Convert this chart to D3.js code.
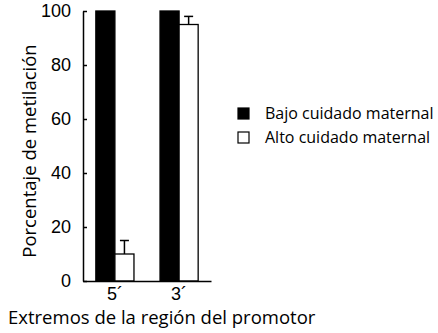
<!DOCTYPE html>
<html>
<head>
<meta charset="utf-8">
<script src="https://cdn.jsdelivr.net/npm/d3@7"></script>
<style>
  html, body { margin: 0; padding: 0; background: #fff; }
  svg { display: block; }
</style>
</head>
<body>
<svg id="chart" width="438" height="333"></svg>
<script>
// Methylation percentage at the two ends of the promoter region
const regions = ["5´", "3´"];
const groups = ["Bajo cuidado maternal", "Alto cuidado maternal"];
const bajoValues = [100, 100];
const altoValues = [10, 95];
const altoErrors = [5, 3];
const yTicks = [0, 20, 40, 60, 80, 100];

const svg = d3.select("#chart");
const plot = { left: 83, right: 211, top: 11, bottom: 281 };

const y = d3.scaleLinear().domain([0, 100]).range([plot.bottom, plot.top]);
const x0 = d3.scaleBand().domain(regions).range([plot.left, plot.right])
  .paddingInner(0.406).paddingOuter(0.2);
const x1 = d3.scaleBand().domain(groups).range([0, x0.bandwidth()]);

const fills = { "Bajo cuidado maternal": "#000", "Alto cuidado maternal": "#fff" };

const rows = regions.map((r, i) => ({
  region: r,
  bars: [
    { group: groups[0], value: bajoValues[i], err: 0 },
    { group: groups[1], value: altoValues[i], err: altoErrors[i] }
  ]
}));

const g = svg.append("g");

// Error bars (upper whisker only)
rows.forEach(row => {
  row.bars.filter(b => b.err > 0).forEach(b => {
    const cx = x0(row.region) + x1(b.group) + x1.bandwidth() / 2;
    g.append("line").attr("x1", cx).attr("x2", cx)
      .attr("y1", y(b.value)).attr("y2", y(b.value + b.err))
      .attr("stroke", "#000").attr("stroke-width", 1.5);
    g.append("line").attr("x1", cx - 4.5).attr("x2", cx + 4.5)
      .attr("y1", y(b.value + b.err)).attr("y2", y(b.value + b.err))
      .attr("stroke", "#000").attr("stroke-width", 1.5);
  });
});

// Bars
rows.forEach(row => {
  g.selectAll(null).data(row.bars).enter().append("rect")
    .attr("x", d => x0(row.region) + x1(d.group))
    .attr("y", d => y(d.value))
    .attr("width", x1.bandwidth())
    .attr("height", d => y(0) - y(d.value))
    .attr("fill", d => fills[d.group])
    .attr("stroke", "#000")
    .attr("stroke-width", 1.3);
});

// Y axis with inward ticks
const yAxis = svg.append("g")
  .attr("transform", `translate(${plot.left},0)`)
  .call(d3.axisLeft(y).tickValues(yTicks).tickSizeInner(-4).tickSizeOuter(0).tickPadding(12));
yAxis.select(".domain").attr("stroke-width", 1.5);
yAxis.selectAll(".tick line").attr("stroke-width", 1.5);
yAxis.selectAll("text").attr("font-family", "Liberation Sans, Arial, sans-serif")
  .attr("font-size", 18).attr("fill", "#000");

// X axis
const xAxis = svg.append("g")
  .attr("transform", `translate(0,${plot.bottom})`)
  .call(d3.axisBottom(x0).tickSize(0).tickPadding(6).tickSizeOuter(0));
xAxis.select(".domain").attr("stroke-width", 1.5);
xAxis.selectAll("text").attr("font-family", "Liberation Sans, Arial, sans-serif")
  .attr("font-size", 18).attr("fill", "#000");

// Axis titles
svg.append("text")
  .attr("transform", `translate(36,151) rotate(-90)`)
  .attr("text-anchor", "middle")
  .attr("font-family", "Open Sans, Noto Sans, sans-serif")
  .attr("font-size", 18.5)
  .text("Porcentaje de metilación");

svg.append("text")
  .attr("x", 8).attr("y", 324)
  .attr("font-family", "Open Sans, Noto Sans, sans-serif")
  .attr("font-size", 18.5)
  .text("Extremos de la región del promotor");

// Legend
const legend = svg.append("g").attr("transform", "translate(238,108)");
groups.forEach((grp, i) => {
  const row = legend.append("g").attr("transform", `translate(0,${i * 24})`);
  row.append("rect").attr("width", 11).attr("height", 11)
    .attr("fill", fills[grp]).attr("stroke", "#000").attr("stroke-width", 1.2);
  row.append("text").attr("x", 27).attr("y", 5.5).attr("dy", "0.35em")
    .attr("font-family", "Open Sans, Noto Sans, sans-serif")
    .attr("font-size", 16)
    .text(grp);
});
</script>
</body>
</html>
